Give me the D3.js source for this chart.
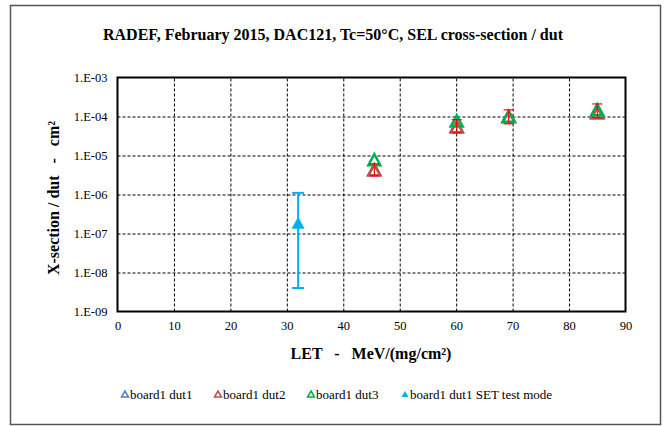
<!DOCTYPE html>
<html>
<head>
<meta charset="utf-8">
<script src="https://cdn.jsdelivr.net/npm/d3@7"></script>
<style>
  body { margin: 0; background: #fff; }
  svg text { font-family: "Liberation Serif", "Times New Roman", serif; fill: #000; }
</style>
</head>
<body>
<div id="chart"></div>
<script>
// data
const seriesNames = ["board1 dut1", "board1 dut2", "board1 dut3", "board1 dut1 SET test mode"];
const letValues = [45.5, 60.1, 69.3, 85.0];
const dut1Values = [4.3e-6, 5.5e-5, 1.0e-4, 1.25e-4];
const dut2Values = [4.3e-6, 5.5e-5, 1.0e-4, 1.25e-4];
const dut3Values = [7.8e-6, 7.7e-5, 1.0e-4, 1.5e-4];
const dut2ErrLow = [3.0e-6, 3.8e-5, 6.5e-5, 9.3e-5];
const dut2ErrHigh = [6.1e-6, 8.3e-5, 1.48e-4, 2.1e-4];
const setLet = [32.0];
const setValues = [1.9e-7];
const setErrLow = [4.0e-9];
const setErrHigh = [1.1e-6];
const xTicks = [0, 10, 20, 30, 40, 50, 60, 70, 80, 90];
const yTicks = [1e-9, 1e-8, 1e-7, 1e-6, 1e-5, 1e-4, 1e-3];
const colors = ["#4f81bd", "#c0504d", "#00b050", "#00b0f0"];

const W = 666, H = 426;
const serif = "'Liberation Serif', 'Times New Roman', serif";
const plot = { left: 117.5, right: 625.5, top: 77.5, bottom: 311.5 };

const svg = d3.select("#chart").append("svg")
    .attr("width", W)
    .attr("height", H);

// outer frame
svg.append("rect")
    .attr("x", 10.5).attr("y", 5.5)
    .attr("width", 650).attr("height", 419)
    .attr("fill", "none")
    .attr("stroke", "#555")
    .attr("stroke-width", 1.5);

const x = d3.scaleLinear().domain([0, 90]).range([plot.left, plot.right]);
const y = d3.scaleLog().domain([1e-9, 1e-3]).range([plot.bottom, plot.top]);

const fmtY = v => "1.E-" + String(-Math.round(Math.log10(v))).padStart(2, "0");

// grid lines
svg.append("g")
    .attr("transform", `translate(0,${plot.bottom})`)
    .call(d3.axisBottom(x).tickValues(xTicks.slice(1, -1)).tickSize(-(plot.bottom - plot.top)).tickFormat(""))
    .call(g => g.select(".domain").remove())
    .call(g => g.selectAll("line").attr("stroke", "#000").attr("stroke-dasharray", "3,2"));

svg.append("g")
    .attr("transform", `translate(${plot.left},0)`)
    .call(d3.axisLeft(y).tickValues(yTicks.slice(1, -1)).tickSize(-(plot.right - plot.left)).tickFormat(""))
    .call(g => g.select(".domain").remove())
    .call(g => g.selectAll("line").attr("stroke", "#000").attr("stroke-dasharray", "3,2"));

// plot frame
svg.append("rect")
    .attr("x", plot.left).attr("y", plot.top)
    .attr("width", plot.right - plot.left)
    .attr("height", plot.bottom - plot.top)
    .attr("fill", "none")
    .attr("stroke", "#000")
    .attr("stroke-width", 2);

// tick labels
svg.append("g")
    .attr("transform", `translate(0,${plot.bottom})`)
    .attr("font-family", serif)
    .call(d3.axisBottom(x).tickValues(xTicks).tickSize(0).tickPadding(10))
    .call(g => g.select(".domain").remove())
    .call(g => g.selectAll("text").style("font-family", serif).attr("font-size", "12.5px"));

svg.append("g")
    .attr("transform", `translate(${plot.left},0)`)
    .call(d3.axisLeft(y).tickValues(yTicks).tickSize(0).tickPadding(10).tickFormat(fmtY))
    .call(g => g.select(".domain").remove())
    .call(g => g.selectAll("text").style("font-family", serif).attr("font-size", "12.5px"));

// titles
svg.append("text")
    .attr("x", 333).attr("y", 40)
    .attr("text-anchor", "middle")
    .attr("font-size", "16px")
    .attr("font-weight", "bold")
    .text("RADEF, February 2015, DAC121, Tc=50°C, SEL cross-section / dut");

svg.append("text")
    .attr("x", 371).attr("y", 359)
    .attr("text-anchor", "middle")
    .attr("font-size", "16px")
    .attr("font-weight", "bold")
    .attr("xml:space", "preserve")
    .text("LET   -   MeV/(mg/cm²)");

svg.append("text")
    .attr("transform", "translate(59,198) rotate(-90)")
    .attr("text-anchor", "middle")
    .attr("font-size", "16px")
    .attr("font-weight", "bold")
    .attr("xml:space", "preserve")
    .text("X-section / dut   -   cm²");

// excel style triangle, centred on its bounding box
const triPath = (w, h) => `M0,${-h / 2}L${w / 2},${h / 2}L${-w / 2},${h / 2}Z`;

function drawSeries(xs, ys, color, filled, w, h) {
    svg.append("g")
        .selectAll("path")
        .data(xs.map((d, i) => [d, ys[i]]))
        .join("path")
        .attr("transform", d => `translate(${x(d[0])},${y(d[1])})`)
        .attr("d", triPath(w, h))
        .attr("fill", filled ? color : "none")
        .attr("stroke", color)
        .attr("stroke-width", filled ? 0 : 2.5);
}

function drawErrors(xs, lo, hi, color, width, cap) {
    const g = svg.append("g").attr("stroke", color).attr("stroke-width", width);
    const rows = xs.map((d, i) => ({ x: d, lo: lo[i], hi: hi[i] }));
    g.selectAll("line.v").data(rows).join("line")
        .attr("class", "v")
        .attr("x1", d => x(d.x)).attr("x2", d => x(d.x))
        .attr("y1", d => y(d.lo)).attr("y2", d => y(d.hi));
    g.selectAll("line.hi").data(rows).join("line")
        .attr("class", "hi")
        .attr("x1", d => x(d.x) - cap).attr("x2", d => x(d.x) + cap)
        .attr("y1", d => y(d.hi)).attr("y2", d => y(d.hi));
    g.selectAll("line.lo").data(rows).join("line")
        .attr("class", "lo")
        .attr("x1", d => x(d.x) - cap).attr("x2", d => x(d.x) + cap)
        .attr("y1", d => y(d.lo)).attr("y2", d => y(d.lo));
}

drawSeries(letValues, dut1Values, colors[0], false, 12, 11);
drawSeries(letValues, dut2Values, colors[1], false, 12, 11);
drawSeries(letValues, dut3Values, colors[2], false, 12, 11);
drawErrors(letValues, dut2ErrLow, dut2ErrHigh, "#ff0000", 1.2, 5);

drawErrors(setLet, setErrLow, setErrHigh, colors[3], 2, 6);
drawSeries(setLet, setValues, colors[3], true, 13, 12);

// legend
const legendX = [125, 218, 311, 405];
const legend = svg.append("g")
    .selectAll("g")
    .data(seriesNames)
    .join("g")
    .attr("transform", (d, i) => `translate(${legendX[i]},394)`);

legend.append("path")
    .attr("d", triPath(7, 6))
    .attr("fill", (d, i) => i === 3 ? colors[i] : "none")
    .attr("stroke", (d, i) => colors[i])
    .attr("stroke-width", (d, i) => i === 3 ? 0 : 1.5);

legend.append("text")
    .attr("x", 5)
    .attr("y", 4.5)
    .attr("font-size", "13px")
    .style("font-family", serif)
    .text(d => d);
</script>
</body>
</html>
